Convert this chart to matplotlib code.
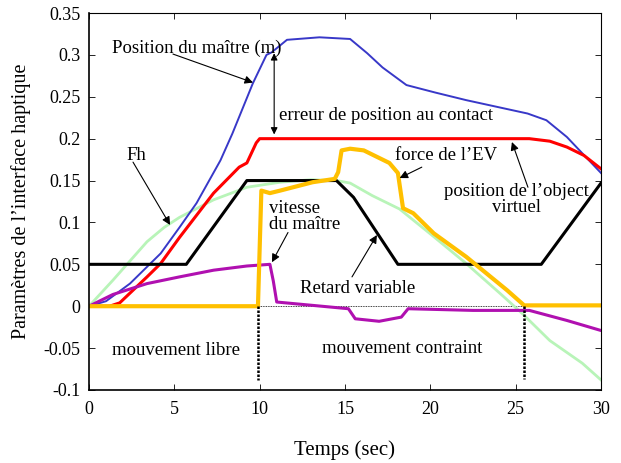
import numpy as np
import matplotlib.pyplot as plt

plt.rcParams['font.family'] = ['Liberation Serif', 'DejaVu Serif']

# position du maitre (bleu)
t_pos = [0, 1.0, 2.4, 3.4, 4.2, 5.3, 6.3, 7.7, 8.4, 9.6, 10.4, 10.7, 11.6, 13.5, 15.3, 16.3, 17.2, 18.6, 20.3, 22.1, 25.7, 26.8, 28.0, 30.0]
y_pos = [0, 0.006, 0.027, 0.047, 0.063, 0.094, 0.123, 0.174, 0.206, 0.266, 0.300, 0.303, 0.318, 0.321, 0.319, 0.302, 0.285, 0.264, 0.255, 0.246, 0.230, 0.222, 0.202, 0.159]

# position de l'objet virtuel (rouge)
t_obj = [0, 1.2, 1.8, 3.4, 4.2, 5.3, 7.3, 8.8, 9.25, 9.8, 10.0, 25.8, 27.0, 28.0, 29.0, 30.0]
y_obj = [0, 0.0, 0.004, 0.035, 0.051, 0.082, 0.135, 0.166, 0.171, 0.195, 0.200, 0.200, 0.197, 0.190, 0.180, 0.164]

# retard variable (noir)
t_ret = [0, 5.7, 9.25, 14.5, 15.5, 18.1, 26.5, 30.0]
y_ret = [0.05, 0.05, 0.15, 0.15, 0.13, 0.05, 0.05, 0.147]

# Fh (vert)
t_fh = [0, 1.4, 3.4, 4.4, 5.3, 7.3, 9.25, 11.2, 13.0, 14.5, 15.3, 16.6, 18.2, 20.2, 22.1, 24.1, 25.4, 27.0, 28.9, 30.0]
y_fh = [0, 0.031, 0.077, 0.094, 0.106, 0.127, 0.142, 0.148, 0.151, 0.150, 0.147, 0.132, 0.116, 0.083, 0.051, 0.015, -0.009, -0.041, -0.068, -0.088]

# vitesse du maitre (violet)
t_vit = [0, 0.7, 1.4, 3.4, 5.3, 7.3, 9.25, 10.6, 10.8, 11.0, 13.1, 15.2, 15.6, 17.0, 18.3, 18.7, 22.5, 25.8, 28.0, 30.0]
y_vit = [0, 0.007, 0.014, 0.027, 0.035, 0.043, 0.048, 0.050, 0.030, 0.005, 0.001, -0.003, -0.015, -0.018, -0.013, -0.003, -0.005, -0.005, -0.017, -0.029]

# force de l'EV (orange)
t_for = [0, 9.9, 10.1, 10.6, 11.2, 13.1, 14.4, 14.6, 14.8, 15.3, 16.1, 16.9, 17.6, 18.1, 18.4, 19.0, 20.2, 22.1, 23.3, 24.5, 25.5, 30.0]
y_for = [0, 0, 0.138, 0.135, 0.138, 0.148, 0.152, 0.16, 0.186, 0.188, 0.186, 0.178, 0.171, 0.159, 0.117, 0.111, 0.087, 0.059, 0.039, 0.019, 0.001, 0.001]

t_contact = 9.9
t_fin = 25.5

xticks = [0, 5, 10, 15, 20, 25, 30]
yticks = [-0.1, -0.05, 0, 0.05, 0.1, 0.15, 0.2, 0.25, 0.3, 0.35]
ylabels = ['-0.1', '-0.05', '0', '0.05', '0.1', '0.15', '0.2', '0.25', '0.3', '0.35']

fig = plt.figure(figsize=(6.21, 4.63), dpi=100)
ax = fig.add_axes([0.1433, 0.1577, 0.8245, 0.8142])

ax.axhline(0, color='k', lw=0.6, ls=(0, (1, 1)))
ax.plot(t_fh, y_fh, color='#b8f4b8', lw=2)
ax.plot(t_pos, y_pos, color='#3838c8', lw=1.4)
ax.plot(t_obj, y_obj, color='#ff0000', lw=2.2)
ax.plot(t_ret, y_ret, color='k', lw=2.2)
ax.plot(t_vit, y_vit, color='#b010b0', lw=2.2)
ax.plot(t_for, y_for, color='#ffc000', lw=3)
ax.plot([t_contact, t_contact], [0, -0.088], color='k', lw=1.8, ls=(0, (1, 0.6)))
ax.plot([t_fin, t_fin], [0, -0.087], color='k', lw=1.8, ls=(0, (1, 0.6)))

ax.set_xlim(0, 30)
ax.set_ylim(-0.1, 0.35)
ax.set_xticks(xticks)
ax.set_yticks(yticks)
ax.set_yticklabels(ylabels)
ax.tick_params(direction='in', top=True, right=True, labelsize=13, length=4, width=0.6)
ax.tick_params(axis='y', pad=6)
ax.tick_params(axis='x', pad=8)
for s in ax.spines.values():
    s.set_linewidth(0.8)
ax.spines['left'].set_linewidth(1.2)
ax.spines['bottom'].set_linewidth(1.2)

ax.set_xlabel('Temps (sec)', fontsize=15, labelpad=16)
ax.set_ylabel('Paramètres de l’interface haptique', fontsize=14.5, labelpad=9)

fs = 13.5
arr = dict(arrowstyle='-|>', color='k', lw=0.8, mutation_scale=12, shrinkA=0, shrinkB=0)
ax.text(1.35, 0.308, 'Position du maître (m)', fontsize=fs, va='center')
ax.annotate('', xy=(9.61, 0.267), xytext=(4.92, 0.301), arrowprops=arr)
ax.annotate('', xy=(10.85, 0.205), xytext=(10.85, 0.302),
            arrowprops=dict(arrowstyle='<|-|>', color='k', lw=0.8, mutation_scale=10, shrinkA=0, shrinkB=0))
ax.text(11.13, 0.228, 'erreur de position au contact', fontsize=fs, va='center')
ax.text(2.8, 0.18, 'Fh', fontsize=fs, va='center', ha='center')
ax.annotate('', xy=(4.75, 0.097), xytext=(2.58, 0.172), arrowprops=arr)
ax.text(17.93, 0.18, 'force de l’EV', fontsize=fs, va='center')
ax.annotate('', xy=(18.2, 0.153), xytext=(19.5, 0.166), arrowprops=arr)
ax.text(25.07, 0.127, 'position de l’object\nvirtuel', fontsize=fs, va='center', ha='center', linespacing=0.95)
ax.annotate('', xy=(24.78, 0.196), xytext=(25.72, 0.142), arrowprops=arr)
ax.text(10.54, 0.107, 'vitesse\ndu maître', fontsize=fs, va='center', ha='left', linespacing=0.95)
ax.annotate('', xy=(10.72, 0.0525), xytext=(11.66, 0.088), arrowprops=arr)
ax.text(12.36, 0.0215, 'Retard variable', fontsize=fs, va='center')
ax.annotate('', xy=(16.87, 0.085), xytext=(15.41, 0.035), arrowprops=arr)
ax.text(1.35, -0.0525, 'mouvement libre', fontsize=fs, va='center')
ax.text(13.65, -0.050, 'mouvement contraint', fontsize=fs, va='center')

fig.savefig('out.png', dpi=100)
